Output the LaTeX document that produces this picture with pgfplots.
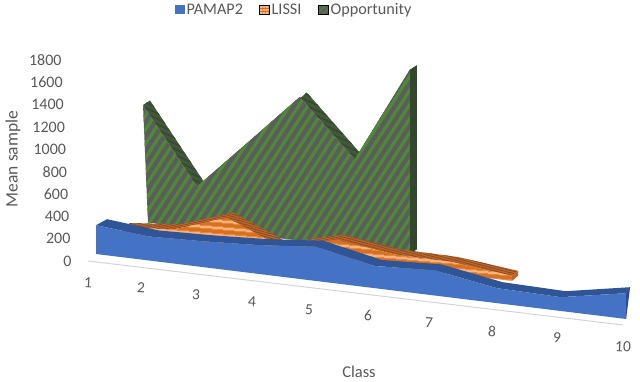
\documentclass[border=0pt]{standalone}
\usepackage{fontspec}
\setmainfont{Carlito}
\usepackage{pgfplots}
\usepackage{pgfplotstable}
\pgfplotsset{compat=1.18}
\usetikzlibrary{patterns.meta}
\definecolor{txt}{HTML}{595959}
\definecolor{bluef}{HTML}{4472C4}
\definecolor{blueb}{HTML}{2F5597}
\definecolor{bluew}{HTML}{2A4A85}
\definecolor{orf}{HTML}{D9701E}
\definecolor{orl}{HTML}{F9B27C}
\definecolor{orb}{HTML}{B9662F}
\definecolor{ord}{HTML}{8A4A1E}
\definecolor{grf}{HTML}{5C5C5C}
\definecolor{grl}{HTML}{4E8A35}
\definecolor{grb}{HTML}{43583B}
\definecolor{grd}{HTML}{36482F}
\definecolor{grw}{HTML}{33472D}
\definecolor{floorc}{HTML}{D4D4D4}

% each row: class, depth (0 front, 1 back), value
\pgfplotstableread{
c d v
1 0 240
2 0 200
3 0 215
4 0 240
5 0 285
6 0 185
7 0 210
8 0 125
9 0 115
10 0 215
10 0 0
9 0 0
8 0 0
7 0 0
6 0 0
5 0 0
4 0 0
3 0 0
2 0 0
1 0 0
}\pamapface
\pgfplotstableread{
c d v
1 0 240
2 0 200
3 0 215
4 0 240
5 0 285
6 0 185
7 0 210
8 0 125
9 0 115
10 0 215
10 1 215
9 1 115
8 1 125
7 1 210
6 1 185
5 1 285
4 1 240
3 1 215
2 1 200
1 1 240
}\pamaptop
\pgfplotstableread{
c d v
10 0 215
10 1 215
10 0 0
}\pamapend
\pgfplotstableread{
c d v
1 0 73
2 0 117
3 0 273
4 0 70
5 0 190
6 0 119
7 0 107
8 0 43
8 0 0
1 0 0
}\lissiface
\pgfplotstableread{
c d v
1 0 73
2 0 117
3 0 273
4 0 70
5 0 190
6 0 119
7 0 107
8 0 43
8 1 43
7 1 107
6 1 119
5 1 190
4 1 70
3 1 273
2 1 117
1 1 73
}\lissitop
\pgfplotstableread{
c d v
8 0 43
8 1 43
8 1 0
8 0 0
}\lissiend
\pgfplotstableread{
c d v
1 0 1175
2 0 420
3 0 920
4 0 1440
5 0 880
6 0 1840
6 0 0
5 0 0
4 0 0
3 0 0
2 0 0
1 0 0
}\oppface
\pgfplotstableread{
c d v
1 0 1175
2 0 420
3 0 920
4 0 1440
5 0 880
6 0 1840
6 1 1840
5 1 880
4 1 1440
3 1 920
2 1 420
1 1 1175
}\opptop
\pgfplotstableread{
c d v
6 0 1840
6 1 1840
6 1 0
6 0 0
}\oppend

% projection of (class, depth, value) into the picture
\newcommand\XX{(\pxa+\pxb*(\thisrow{c}-1)+\pxc*(\thisrow{c}-1)*(\thisrow{c}-1)+\thisrow{d}*(\poa+\pob*(\thisrow{c}-1))-\thisrow{v}*\psl*(6-\thisrow{c})/5)}
\newcommand\YY{(382-(\pya+\pyb*(\thisrow{c}-1)+\pyc*(\thisrow{c}-1)*(\thisrow{c}-1)+\thisrow{d}*\poy-\thisrow{v}*\pkk))}
\newcommand\poly[2]{\addplot[#1,draw=none,forget plot] table[x expr={\XX},y expr={\YY}] {#2};}

\begin{document}
\begin{tikzpicture}[x=1pt,y=1pt]
\useasboundingbox (0,0) rectangle (640,382);
\begin{axis}[
  at={(0pt,0pt)},anchor=south west,
  width=640pt,height=382pt,scale only axis,
  xmin=0,xmax=640,ymin=0,ymax=382,
  hide axis,clip=false,
  font=\fontsize{15.5}{17}\selectfont,
  legend columns=3,
  legend style={draw=none,fill=none,at={(axis cs:294,372)},anchor=center,
    font=\fontsize{16.2}{18}\selectfont\color{txt},
    /tikz/every even column/.append style={column sep=13.5pt},
    inner sep=0pt},
  legend cell align=left,
  legend image code/.code={\path[#1,draw=none] (0pt,-4.5pt) rectangle (10pt,4.5pt);},
]
\addlegendimage{fill=bluef}
\addlegendentry{PAMAP2}
\addlegendimage{fill=orf,postaction={pattern={Lines[angle=0,distance=3pt,line width=1.2pt]},pattern color=orl}}
\addlegendentry{LISSI}
\addlegendimage{fill=grf,postaction={pattern={Lines[angle=45,distance=4pt,line width=1.5pt]},pattern color=grl}}
\addlegendentry{Opportunity}

% floor
\addplot[draw=floorc,line width=1pt,forget plot] coordinates {(88,121) (623,57)};

% Opportunity
\def\pxa{148}\def\pxb{50}\def\pxc{0.47}\def\poa{7}\def\pob{0}\def\psl{0.00425}
\def\pya{222.5}\def\pyb{6}\def\pyc{0.056}\def\poy{-4.5}\def\pkk{0.1}
\poly{fill=grb}{\opptop}
\poly{pattern={Lines[angle=-25,distance=5pt,line width=1.5pt]},pattern color=grd}{\opptop}
\poly{fill=grw}{\oppend}
\poly{fill=grf}{\oppface}
\poly{pattern={Lines[angle=57,distance=7.7pt,line width=3.2pt]},pattern color=grl}{\oppface}

% LISSI
\def\pxa{124}\def\pxb{49.93}\def\pxc{0.786}\def\poa{6}\def\pob{0}\def\psl{0}
\def\pya{236.4}\def\pyb{6.2}\def\pyc{0.02}\def\poy{-5}\def\pkk{0.115}
\poly{fill=orb}{\lissitop}
\poly{pattern={Lines[angle=-15,distance=2.2pt,line width=0.8pt]},pattern color=ord}{\lissitop}
\poly{fill=orb}{\lissiend}
\poly{fill=orf}{\lissiface}
\poly{pattern={Lines[angle=-5,distance=6.5pt,line width=3pt]},pattern color=orl}{\lissiface}

% PAMAP2
\def\pxa{96}\def\pxb{51.7}\def\pxc{0.8}\def\poa{11}\def\pob{-0.78}\def\psl{0}
\def\pya{254}\def\pyb{6.34}\def\pyc{0.098}\def\poy{-6}\def\pkk{0.12}
\poly{fill=blueb}{\pamaptop}
\poly{fill=bluew}{\pamapend}
\poly{fill=bluef}{\pamapface}

% class labels
\foreach \t/\px/\py in {1/88/283,2/141/288,3/196/295,4/252/302,5/309/310,6/368/316,7/429/323,8/492/331,9/557/338,10/623/347}{
  \edef\tmp{\noexpand\node[text=txt,rotate=-3,font=\noexpand\fontsize{15.5}{17}\noexpand\selectfont] at (axis cs:\px,\the\numexpr382-\py\relax) {\t};}
  \tmp
}
\end{axis}
\begin{axis}[
  at={(75pt,121pt)},anchor=south west,
  width=1pt,height=201pt,scale only axis,
  xmin=0,xmax=1,ymin=0,ymax=1800,
  ytick={0,200,...,1800},xtick=\empty,
  axis line style={draw=none},major tick length=0pt,
  y tick label style={text=txt,font=\fontsize{16}{18}\selectfont,xshift={-1.1pt*\ticknum},/pgf/number format/assume math mode=true,/pgf/number format/1000 sep={}},
  xlabel={Class},ylabel={Mean sample},
  x label style={text=txt,font=\fontsize{16.5}{18}\selectfont,at={(axis description cs:0,0)},anchor=center,inner sep=0pt,xshift=284pt,yshift=-111pt},
  y label style={text=txt,font=\fontsize{17.5}{19}\selectfont,at={(axis description cs:0,0)},anchor=center,xshift=102pt,yshift=62pt},
]
\end{axis}
\end{tikzpicture}
\end{document}
